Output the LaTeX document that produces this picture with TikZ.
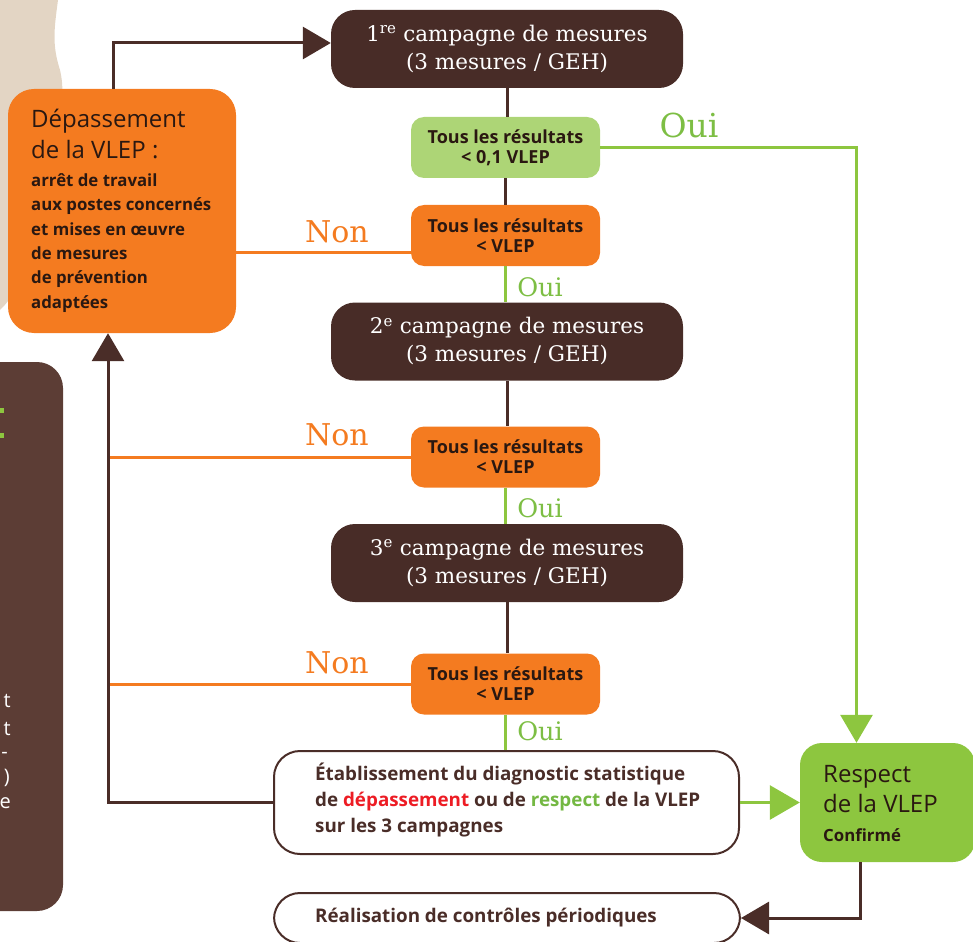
\documentclass[tikz,border=0pt]{standalone}
\usepackage{fontspec}
\setmainfont{Open Sans}
\newfontfamily\hand{DejaVu Serif}
\usetikzlibrary{arrows.meta,calc}
\definecolor{brn}{HTML}{4A2D28}
\definecolor{boxbrn}{HTML}{482C27}
\definecolor{orng}{HTML}{F47B20}
\definecolor{lgrn}{HTML}{ADD576}
\definecolor{grn}{HTML}{8DC63F}
\definecolor{lblgrn}{HTML}{7DBE44}
\definecolor{beige}{HTML}{E3D5C4}
\definecolor{panel}{HTML}{5C3D35}
\definecolor{ink}{HTML}{2A1811}
\definecolor{dred}{HTML}{ED1C24}
\definecolor{dgrn}{HTML}{74B843}
\begin{document}
\begin{tikzpicture}[x=1pt,y=-1pt,
  campbox/.style={fill=boxbrn, rounded corners=24pt, minimum width=352pt, minimum height=78pt, inner sep=0pt, text=white, align=center, font=\hand\fontsize{21.5}{28}\selectfont},
  decbox/.style={rounded corners=13pt, minimum width=189pt, minimum height=61pt, inner sep=0pt, text=ink, align=center, font=\fontsize{18}{20}\selectfont\bfseries},
  outbox/.style={draw=brn, line width=2pt, fill=white, rounded corners=26pt, inner sep=0pt},
  bline/.style={draw=brn, line width=3pt},
  gline/.style={draw=grn, line width=3pt},
  oline/.style={draw=orng, line width=3pt},
  btip/.style={-{Triangle[length=28pt,width=32pt]}},
  bigtxt/.style={anchor=base west, inner sep=0pt, text=ink, font=\fontsize{24}{24}\selectfont},
  smalltxt/.style={anchor=base west, inner sep=0pt, text=ink, font=\fontsize{16.8}{20}\selectfont\bfseries},
  diagtxt/.style={anchor=base west, inner sep=0pt, text=brn, font=\fontsize{18.8}{20}\selectfont\bfseries},
  frag/.style={anchor=base east, text=white, font=\fontsize{20}{20}\selectfont, inner sep=0pt},
  ouilbl/.style={text=lblgrn, font=\hand\fontsize{25.5}{25.5}\selectfont, inner sep=0pt},
  nonlbl/.style={text=orng, font=\hand\fontsize{30}{30}\selectfont, inner sep=0pt}
]
\useasboundingbox (0,0) rectangle (973,941);

% background beige shape
\fill[beige] (0,0) -- (58,0) .. controls (54,30) and (52,45) .. (60,70)
  .. controls (66,95) and (60,120) .. (50,160) -- (14,290) .. controls (10,300) and (5,305) .. (0,310) -- cycle;

% left dark panel with clipped text
\begin{scope}
\fill[panel, rounded corners=26pt] (-40,362) rectangle (63,911);
\clip (0,362) rectangle (63,911);
\fill[grn] (-6,408) rectangle (4,413);
\fill[grn] (-6,433) rectangle (4,438);
\node[frag] (f1) at (11,707) {t};
\node[frag] (f2) at (11,735) {t};
\node[frag] (f3) at (8,758) {-};
\node[frag] (f4) at (10,783) {)};
\node[frag] (f5) at (11,808) {e};
\end{scope}

% Depassement box
\node[fill=orng, rounded corners=26pt, minimum width=228pt, minimum height=244pt, inner sep=0pt] (dep) at (122,211) {};
\node[bigtxt] (dep1) at (31,128) {Dépassement};
\node[bigtxt] (dep2) at (31,159) {de la VLEP :};
\node[smalltxt] (dep3) at (31,187) {arrêt de travail};
\node[smalltxt] (dep4) at (31,211) {aux postes concernés};
\node[smalltxt] (dep5) at (31,235) {et mises en œuvre};
\node[smalltxt] (dep6) at (31,259) {de mesures};
\node[smalltxt] (dep7) at (31,283) {de prévention};
\node[smalltxt] (dep8) at (31,308) {adaptées};

% campaign boxes
\node[campbox] (c1) at (507,49) {1\textsuperscript{re} campagne de mesures\\(3 mesures / GEH)};
\node[campbox] (c2) at (507,341.5) {2\textsuperscript{e} campagne de mesures\\(3 mesures / GEH)};
\node[campbox] (c3) at (507,563) {3\textsuperscript{e} campagne de mesures\\(3 mesures / GEH)};

% decision boxes
\node[decbox, fill=lgrn] (d1) at (505.5,147.5) {Tous les résultats\\< 0,1 VLEP};
\node[decbox, fill=orng] (d2) at (505.5,235.5) {Tous les résultats\\< VLEP};
\node[decbox, fill=orng] (d3) at (505.5,457) {Tous les résultats\\< VLEP};
\node[decbox, fill=orng] (d4) at (505.5,684) {Tous les résultats\\< VLEP};

% diagnostic box
\node[outbox, minimum width=465pt, minimum height=103pt] (diag) at (506.5,802.5) {};
\node[diagtxt] (diag1) at (315,780) {Établissement du diagnostic statistique};
\node[diagtxt] (diag2) at (315,806) {de \textcolor{dred}{dépassement} ou de \textcolor{dgrn}{respect} de la VLEP};
\node[diagtxt] (diag3) at (315,832) {sur les 3 campagnes};

% realisation box
\node[outbox, minimum width=466pt, minimum height=50pt] (real) at (507,918) {};
\node[diagtxt] (realtxt) at (315,922) {Réalisation de contrôles périodiques};

% respect box
\node[fill=grn, rounded corners=22pt, minimum width=175pt, minimum height=119pt, inner sep=0pt] (resp) at (887.5,802.5) {};
\node[bigtxt] (resp1) at (823,782) {Respect};
\node[bigtxt] (resp2) at (823,812) {de la VLEP};
\node[smalltxt] (resp3) at (823,841) {Confirmé};

% helper coordinates
\coordinate (vx) at (108,0);
\coordinate (d2n) at ($(d2.west)+(0,17)$);

% connectors
\draw[bline, btip] ([xshift=-9pt]dep.north) |- ([yshift=6pt]c1.west);
\draw[bline] (c1.south) -- (c1.south |- d1.north);
\draw[bline] (d1.south) -- (d1.south |- d2.north);
\draw[gline] (d2.south) -- (d2.south |- c2.north);
\draw[bline] (c2.south) -- (c2.south |- d3.north);
\draw[gline] (d3.south) -- (d3.south |- c3.north);
\draw[bline] (c3.south) -- (c3.south |- d4.north);
\draw[gline] (d4.south) -- (d4.south |- diag.north);

\draw[oline] (d2n) -- (d2n -| dep.east);
\draw[oline] (d3.west) -- (d3.west -| vx);
\draw[oline] (d4.west) -- (d4.west -| vx);

\draw[bline, btip] (diag.west) -| ([xshift=-14pt]dep.south);

\draw[gline, btip] (d1.east) -| ([xshift=-31pt]resp.north);
\draw[gline, -{Triangle[length=30pt,width=34pt]}] (diag.east) -- (resp.west);
\draw[bline, btip] ([xshift=-27pt]resp.south) |- (real.east);

% labels
\node[ouilbl, font=\hand\fontsize{33}{33}\selectfont] (oui1) at (689,125) {Oui};
\node[nonlbl] (non1) at (337,232) {Non};
\node[ouilbl] (oui2) at (540,287) {Oui};
\node[nonlbl] (non2) at (337,435) {Non};
\node[ouilbl] (oui3) at (540,508) {Oui};
\node[nonlbl] (non3) at (337,663) {Non};
\node[ouilbl] (oui4) at (540,731) {Oui};
\end{tikzpicture}
\end{document}
